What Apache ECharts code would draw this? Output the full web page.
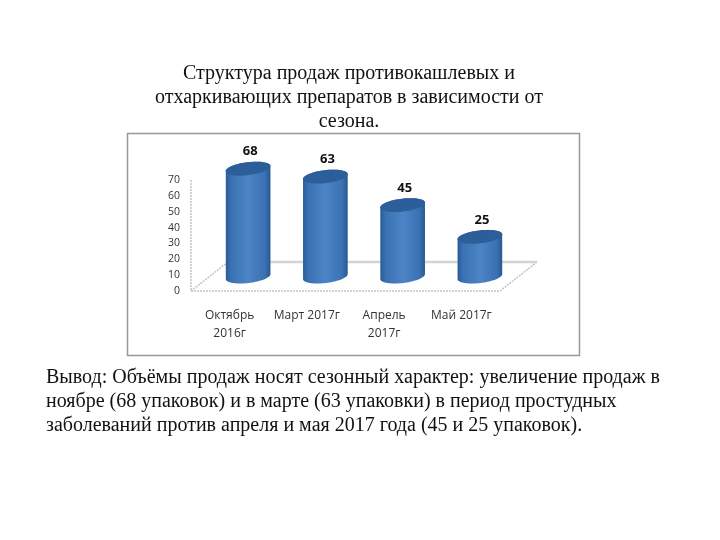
<!DOCTYPE html>
<html><head><meta charset="utf-8">
<style>html,body{margin:0;padding:0;background:#fff}#c{width:720px;height:540px}</style>
<script src="https://cdn.jsdelivr.net/npm/echarts@6/dist/echarts.min.js"></script>
</head><body><div id="c"></div>
<script>
const categories = ['Октябрь\n2016г', 'Март 2017г', 'Апрель\n2017г', 'Май 2017г'];
const values = [68, 63, 45, 25];
const titleLines = ['Структура продаж противокашлевых и', 'отхаркивающих препаратов в зависимости от', 'сезона.'];
const conclusionLines = [
  'Вывод: Объёмы продаж носят сезонный характер: увеличение продаж в',
  'ноябре (68 упаковок) и в марте (63 упаковки) в период простудных',
  'заболеваний против апреля и мая 2017 года (45 и 25 упаковок).'
];
const serif = '"Liberation Serif","DejaVu Serif",serif';
const sans = '"Open Sans","Noto Sans",sans-serif';
const depthX = 37, depthY = 29;

function ellipsePts(cx, cy, rx, ry, rot, from, to) {
  const pts = [], n = 40, c = Math.cos(rot), s = Math.sin(rot);
  for (let i = 0; i <= n; i++) {
    const t = from + (to - from) * i / n;
    const ex = rx * Math.cos(t), ey = ry * Math.sin(t);
    pts.push([cx + ex * c - ey * s, cy + ex * s + ey * c]);
  }
  return pts;
}

function renderBar(params, api) {
  const base = api.coord([api.value(0), 0]);
  const top = api.coord([api.value(0), api.value(1)]);
  const dx = depthX / 2, dy = -depthY / 2;
  const cx = base[0] + dx, yb = base[1] + dy, yt = top[1] + dy;
  const rx = 22.5, ry = 6.5, rot = -0.12;
  const topEdge = ellipsePts(cx, yt, rx, ry, rot, Math.PI, 2 * Math.PI);
  const botEdge = ellipsePts(cx, yb, rx, ry, rot, 0, Math.PI);
  const bodyPts = topEdge.concat(botEdge);
  const grad = new echarts.graphic.LinearGradient(0, 0, 1, 0, [
    {offset: 0, color: '#2a5c96'}, {offset: 0.12, color: '#3a71b2'},
    {offset: 0.5, color: '#4d84c6'}, {offset: 0.88, color: '#3a71b2'},
    {offset: 1, color: '#28588f'}
  ]);
  return {type: 'group', children: [
    {type: 'polygon', shape: {points: bodyPts}, style: {fill: grad}},
    {type: 'polygon', shape: {points: ellipsePts(cx, yt, rx, ry, rot, 0, 2 * Math.PI)}, style: {fill: '#2c5f9a'}},
    {type: 'text', style: {text: String(api.value(1)), x: cx + 2, y: yt - 17, fill: '#111',
      font: 'bold 13px ' + sans, align: 'center', verticalAlign: 'middle'}}
  ]};
}

function renderFloor(params, api) {
  const cs = params.coordSys;
  const x0 = cs.x, x1 = cs.x + cs.width, y0 = cs.y + cs.height;
  const line = {stroke: '#c4c4c4', lineWidth: 1.5, lineDash: [2, 1], fill: null};
  const seg = (a, b, style) => ({type: 'line', shape: {x1: a[0], y1: a[1], x2: b[0], y2: b[1]}, style});
  const p = [[x0, y0], [x1, y0], [x1 + depthX, y0 - depthY], [x0 + depthX, y0 - depthY]];
  return {type: 'group', silent: true, children: [
    seg(p[0], p[1], line), seg(p[1], p[2], line), seg(p[0], p[3], line),
    seg(p[3], p[2], {stroke: '#d4d4d4', lineWidth: 2.5}),
    seg([x0, cs.y], [x0, y0], line)
  ]};
}

const chart = echarts.init(document.getElementById('c'), null, {renderer: 'canvas'});
chart.setOption({
  backgroundColor: '#fff',
  animation: false,
  graphic: [
    {type: 'rect', shape: {x: 127.5, y: 133.5, width: 452, height: 222}, z: -10,
      style: {fill: '#fff', stroke: '#999', lineWidth: 1.5}},
    {type: 'text', z: 5,
      style: {x: 349, y: 62, text: titleLines.join('\n'), font: '20px ' + serif, lineHeight: 24, align: 'center', fill: '#111'}},
    {type: 'text', z: 5,
      style: {x: 46, y: 365.5, text: conclusionLines.join('\n'), font: '20px ' + serif, lineHeight: 24, align: 'left', fill: '#111'}}
  ],
  grid: {left: 191, top: 180, width: 309, height: 111},
  xAxis: {type: 'category', data: categories,
    axisLine: {show: false}, axisTick: {show: false}, splitLine: {show: false},
    axisLabel: {color: '#333', fontFamily: sans, fontSize: 12, lineHeight: 18, margin: 16, interval: 0}},
  yAxis: {type: 'value', min: 0, max: 70, interval: 10,
    axisLine: {show: false}, axisTick: {show: false}, splitLine: {show: false},
    axisLabel: {color: '#333', fontFamily: sans, fontSize: 10.5, margin: 11, padding: [2, 0, 0, 0]}},
  series: [
    {type: 'custom', coordinateSystem: 'cartesian2d', renderItem: renderFloor, data: [0], z: 1, silent: true},
    {type: 'custom', coordinateSystem: 'cartesian2d', renderItem: renderBar, z: 2,
      encode: {x: 0, y: 1}, data: values.map((v, i) => [i, v])}
  ]
});
</script></body></html>
